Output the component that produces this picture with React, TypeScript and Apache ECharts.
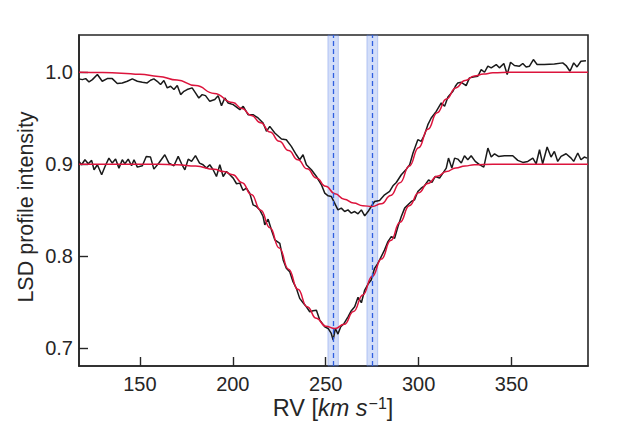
import React, { useEffect, useRef } from "react";
import * as echarts from "echarts";

// Observed LSD profile, upper (shifted) profile: [RV km/s, intensity]
const obsUpper: number[][] = [
  [117.2, 0.9928], [119, 0.992], [120.8, 0.9931], [122.6, 0.9895], [124.4, 0.992],
  [127.1, 0.9975], [129.7, 0.9902], [132.4, 0.9931], [135.1, 0.9931], [137.8, 0.9877],
  [140.5, 0.9884], [143.2, 0.9902], [145.9, 0.9928], [148.6, 0.9902], [151.3, 0.9891],
  [153.9, 0.9884], [155.7, 0.9913], [157.5, 0.9928], [159.3, 0.9902], [161.1, 0.9866],
  [162.9, 0.991], [164.7, 0.983], [166.5, 0.9848], [168.3, 0.9812], [170.1, 0.9855],
  [171.9, 0.9757], [173.7, 0.9793], [175.4, 0.9812], [178.1, 0.983], [179.9, 0.9775],
  [181.7, 0.972], [183.5, 0.9757], [185.3, 0.9746], [187.6, 0.9684], [190.3, 0.9703],
  [192.1, 0.9746], [193.9, 0.9637], [195.7, 0.972], [197.5, 0.9666], [200.2, 0.9648],
  [203.8, 0.9594], [205.6, 0.963], [208.2, 0.9539], [210.9, 0.9539], [213.6, 0.9503],
  [216.3, 0.9448], [218.1, 0.9358], [219.9, 0.9412], [222.6, 0.934], [226.2, 0.9274],
  [228.8, 0.9267], [231.5, 0.9194], [234.2, 0.9103], [236, 0.9049], [237.8, 0.9103],
  [239.6, 0.8995], [242.3, 0.894], [245, 0.8867], [247.7, 0.8777], [249.5, 0.8686],
  [251.3, 0.8657], [253, 0.865], [254.8, 0.8577], [256.6, 0.8504], [258.4, 0.8523],
  [260.2, 0.8486], [262, 0.8504], [263.8, 0.8468], [265.6, 0.8486], [267.4, 0.8461],
  [269.2, 0.8504], [271, 0.8439], [272.8, 0.8486], [274.5, 0.8541], [276.3, 0.8595],
  [279, 0.8606], [281.7, 0.8668], [284.4, 0.8704], [286.2, 0.8766], [288, 0.8802],
  [290.7, 0.8886], [293.4, 0.8947], [295.2, 0.8995], [297, 0.9122], [299.6, 0.9267],
  [301.4, 0.9249], [303.2, 0.9321], [305, 0.943], [306.8, 0.9503], [309.5, 0.9575],
  [312.2, 0.9666], [314, 0.963], [315.8, 0.9732], [318.5, 0.9793], [319.8, 0.9848],
  [321.1, 0.9884], [323, 0.9891], [325.6, 0.9855], [327.4, 0.9939], [330.1, 0.995],
  [331.9, 0.9957], [333.7, 1.0029], [335.5, 1.0], [337.3, 1.0066], [339.1, 1.0048],
  [341.8, 1.0084], [343.5, 1.0048], [345.9, 1.0095], [347.7, 0.9975], [349.5, 1.0109],
  [351.6, 1.0073], [354.3, 1.0066], [356.1, 1.0095], [357.9, 1.0058], [359.7, 1.0066],
  [361.8, 1.0138], [363.8, 1.0084], [367.7, 1.0084], [373.1, 1.009], [377.6, 1.0102],
  [379.4, 1.0073], [381.5, 1.0011], [383.5, 1.0102], [385.3, 1.0058], [387.4, 1.012],
  [390.1, 1.0124],
];

// Observed LSD profile, lower profile
const obsLower: number[][] = [
  [117.2, 0.9031], [118.6, 0.8995], [120.4, 0.9049], [122.2, 0.9005], [124, 0.9042],
  [125.3, 0.894], [127.1, 0.8995], [129.4, 0.8886], [131.2, 0.8976], [133.3, 0.9067],
  [135.1, 0.9013], [136.9, 0.9056], [138.7, 0.8958], [140.5, 0.9049], [141.9, 0.9005],
  [143.7, 0.9056], [145.5, 0.8984], [146.8, 0.9049], [148.6, 0.8969], [151.3, 0.8984],
  [153.4, 0.9085], [155.7, 0.9078], [157.5, 0.8947], [160.2, 0.9013], [163.4, 0.9103],
  [165.6, 0.9013], [168.3, 0.8984], [170.6, 0.9085], [172.4, 0.9005], [174.2, 0.894],
  [176, 0.9056], [177.8, 0.9031], [179.9, 0.9093], [182.1, 0.9013], [184, 0.8995],
  [185.8, 0.8958], [187.6, 0.8995], [189.4, 0.894], [191.2, 0.8867], [193, 0.8995],
  [194.8, 0.8867], [196.6, 0.8922], [198.4, 0.8886], [200.2, 0.8849], [202, 0.8788],
  [203.8, 0.8795], [205.5, 0.8715], [207.3, 0.874], [209.1, 0.8686], [210.9, 0.8559],
  [212.7, 0.8541], [214.5, 0.8504], [216.3, 0.8432], [217.2, 0.8341], [219, 0.8403],
  [220.8, 0.8286], [222.6, 0.8178], [225.3, 0.8141], [227.1, 0.796], [228.8, 0.7869],
  [230.6, 0.7833], [232.4, 0.7724], [234.2, 0.7651], [236, 0.7542], [237.8, 0.7495],
  [239.6, 0.7451], [241.4, 0.7397], [243.2, 0.7408], [245, 0.7414], [246.8, 0.7306],
  [249.5, 0.7233], [251.3, 0.7215], [253, 0.7161], [254, 0.7088], [255.2, 0.7215],
  [256.6, 0.7154], [258.1, 0.7233], [259.9, 0.727], [262, 0.7342], [263.8, 0.7408],
  [265.6, 0.7451], [267.4, 0.7553], [269.2, 0.7495], [271, 0.7633], [272.8, 0.7698],
  [274.5, 0.7742], [276.3, 0.7869], [278.1, 0.7923], [279.9, 0.7996], [281.7, 0.8069],
  [283.5, 0.8159], [285.3, 0.8214], [287.1, 0.8196], [288.9, 0.8323], [290.7, 0.8432],
  [292.5, 0.8523], [294.3, 0.8559], [296.1, 0.8595], [297.8, 0.8613], [299.6, 0.8704],
  [301.4, 0.874], [303.2, 0.8766], [305.4, 0.8831], [307.2, 0.8802], [309, 0.8867],
  [311.3, 0.8849], [313.1, 0.8904], [314.9, 0.8958], [316.1, 0.9067], [317.9, 0.8958],
  [319.4, 0.9067], [321.1, 0.9056], [323, 0.9013], [324.7, 0.9093], [326.5, 0.9049],
  [328.3, 0.9093], [330.5, 0.9031], [332.8, 0.8995], [335.1, 0.8969], [337.3, 0.9176],
  [339.1, 0.9078], [340.9, 0.9114], [343, 0.9085], [346.2, 0.9093], [350.7, 0.9093],
  [353.4, 0.9042], [356.1, 0.902], [358.8, 0.9031], [361.5, 0.9067], [363.3, 0.9005],
  [365.1, 0.9158], [366.8, 0.9005], [369.2, 0.9187], [371.3, 0.9078], [373.1, 0.914],
  [374.9, 0.9031], [376.7, 0.9085], [379.4, 0.9114], [382.1, 0.9067], [383.5, 0.9031],
  [385.7, 0.9122], [387.4, 0.9049], [389.2, 0.9078], [390.7, 0.9067],
];

// Model fits
const fitUpper: number[][] = [
  [117.2, 1.0], [130, 0.9997], [140, 0.999], [150, 0.9978], [160, 0.9955], [170, 0.9915],
  [180, 0.9855], [190, 0.977], [200, 0.967], [205, 0.9605], [210, 0.953], [215, 0.945],
  [220, 0.935], [225, 0.925], [230, 0.915], [235, 0.905], [240, 0.895], [245, 0.885],
  [250, 0.876], [255, 0.868], [260, 0.862], [265, 0.858], [270, 0.855], [275, 0.854],
  [280, 0.857], [285, 0.866], [290, 0.88], [295, 0.898], [300, 0.918], [305, 0.938],
  [310, 0.956], [315, 0.971], [320, 0.983], [325, 0.991], [330, 0.996], [335, 0.998],
  [340, 0.9995], [350, 1.0], [391.2, 1.0],
];

const fitLower: number[][] = [
  [117.2, 0.9], [160, 0.9], [170, 0.8995], [180, 0.898], [190, 0.8945], [195, 0.892],
  [200, 0.8885], [205, 0.88], [210, 0.867], [215, 0.85], [220, 0.831], [225, 0.809],
  [230, 0.786], [235, 0.764], [240, 0.745], [245, 0.7325], [250, 0.724], [255, 0.7215],
  [260, 0.726], [265, 0.74], [270, 0.758], [275, 0.778], [280, 0.797], [285, 0.817],
  [290, 0.837], [295, 0.855], [300, 0.869], [305, 0.879], [310, 0.887], [315, 0.892],
  [320, 0.896], [325, 0.898], [330, 0.8995], [340, 0.9], [391.2, 0.9],
];

// Marked velocities and their uncertainties
const markedRV = [254, 275.1];
const markedRVErr = [2.8, 2.9];

const xTicks = [150, 200, 250, 300, 350];
const yTicks = [0.7, 0.8, 0.9, 1.0];
const xRange = [117.2, 391.2];
const yRange = [0.6807, 1.0405];

const FONT = "'Liberation Sans', Arial, sans-serif";
const TXT = "#262626";

export default function App() {
  const ref = useRef<HTMLDivElement>(null);
  useEffect(() => {
    if (!ref.current) return;
    const chart = echarts.init(ref.current, undefined, { renderer: "svg" });
    const lineCommon = { type: "line", showSymbol: false, symbol: "none", silent: true };
    chart.setOption({
      animation: false,
      backgroundColor: "#ffffff",
      textStyle: { fontFamily: FONT },
      grid: {
        left: 79, right: 49, top: 35, bottom: 55,
        outerBoundsMode: "none",
        containLabel: false,
        show: true, borderColor: TXT, borderWidth: 1.6, backgroundColor: "transparent",
      },
      xAxis: {
        type: "value",
        min: xRange[0], max: xRange[1],
        splitLine: { show: false },
        axisLine: { show: true, lineStyle: { color: TXT, width: 1.6 } },
        axisTick: { show: true, inside: true, length: 9, customValues: xTicks, lineStyle: { color: TXT, width: 1.4 } },
        axisLabel: { customValues: xTicks, color: TXT, fontSize: 20, fontFamily: FONT, margin: 8 },
      },
      yAxis: {
        type: "value",
        min: yRange[0], max: yRange[1],
        splitLine: { show: false },
        axisLine: { show: true, lineStyle: { color: TXT, width: 1.6 } },
        axisTick: { show: true, inside: true, length: 9, customValues: yTicks, lineStyle: { color: TXT, width: 1.4 } },
        axisLabel: {
          customValues: yTicks, color: TXT, fontSize: 20, fontFamily: FONT, margin: 6,
          formatter: (v: number) => v.toFixed(1),
        },
      },
      graphic: [
        {
          type: "text",
          x: 25.5,
          y: 207,
          rotation: Math.PI / 2,
          silent: true,
          style: {
            text: "LSD profile intensity",
            fontSize: 21.5,
            fontFamily: FONT,
            fill: TXT,
            align: "center",
            verticalAlign: "middle",
          },
        },
        {
          type: "text",
          x: 333,
          y: 408,
          silent: true,
          style: {
            text: "{n|RV [}{i|km s}{s|−1}{n|]}",
            fontSize: 23.5,
            fontFamily: FONT,
            fill: TXT,
            align: "center",
            verticalAlign: "middle",
            rich: {
              n: { fontSize: 23.5, fontFamily: FONT, fill: TXT, lineHeight: 26 },
              i: { fontSize: 23.5, fontFamily: FONT, fontStyle: "italic", fill: TXT, lineHeight: 26 },
              s: { fontSize: 16, fontFamily: FONT, fill: TXT, lineHeight: 16, verticalAlign: "top", padding: [0, 0, 0, 1] },
            },
          },
        },
      ],
      series: [
        {
          ...lineCommon,
          name: "bands",
          data: [],
          markArea: {
            silent: true,
            itemStyle: { color: "rgba(110,145,235,0.3)", borderColor: "rgba(90,125,230,0.35)", borderWidth: 1 },
            data: markedRV.map((v, i) => [{ xAxis: v - markedRVErr[i] }, { xAxis: v + markedRVErr[i] }]),
          },
          z: 1,
        },
        {
          ...lineCommon,
          name: "obsUpper",
          data: obsUpper,
          lineStyle: { color: "#1a1a1a", width: 1.5 },
          z: 3,
        },
        {
          ...lineCommon,
          name: "obsLower",
          data: obsLower,
          lineStyle: { color: "#1a1a1a", width: 1.5 },
          z: 3,
        },
        {
          ...lineCommon,
          name: "fitUpper",
          data: fitUpper,
          smooth: true,
          smoothMonotone: "x",
          lineStyle: { color: "#dc143c", width: 1.5 },
          z: 4,
        },
        {
          ...lineCommon,
          name: "fitLower",
          data: fitLower,
          smooth: true,
          smoothMonotone: "x",
          lineStyle: { color: "#dc143c", width: 1.5 },
          z: 4,
        },
        {
          ...lineCommon,
          name: "marks",
          data: [],
          markLine: {
            silent: true,
            symbol: "none",
            label: { show: false },
            lineStyle: { color: "#2f5fe0", width: 1.3, type: [5, 3] },
            data: markedRV.map((v) => ({ xAxis: v })),
          },
          z: 5,
        },
      ],
    });
    return () => chart.dispose();
  }, []);
  return (
    <div
      ref={ref}
      style={{ position: "fixed", left: 0, top: 0, width: 637, height: 421, background: "#fff" }}
    />
  );
}
